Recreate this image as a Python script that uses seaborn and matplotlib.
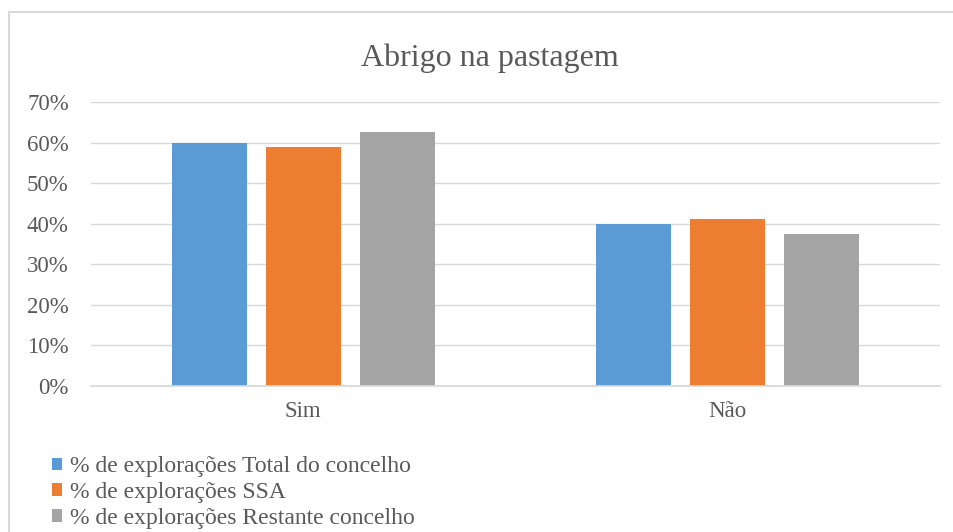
import matplotlib
matplotlib.use("Agg")
import matplotlib.pyplot as plt
import seaborn as sns
import pandas as pd
from matplotlib.patches import Rectangle
from matplotlib.ticker import PercentFormatter

# dados
categorias = ["Sim", "Não"]
series = ["% de explorações Total do concelho",
          "% de explorações SSA",
          "% de explorações Restante concelho"]
total_concelho = [60.0, 40.0]
ssa = [58.8, 41.2]
restante = [62.5, 37.5]
cores = ["#5B9BD5", "#ED7D31", "#A5A5A5"]

df = pd.DataFrame({
    "categoria": categorias * 3,
    "serie": [series[0]] * 2 + [series[1]] * 2 + [series[2]] * 2,
    "valor": total_concelho + ssa + restante,
})

sns.set_theme(style="white")
plt.rcParams["font.family"] = ["Liberation Serif", "DejaVu Serif"]
cinza_texto = "#595959"

fig = plt.figure(figsize=(9.54, 5.32), dpi=100)
ax = fig.add_axes([0.0954, 0.2744, 0.8899, 0.5339])

sns.barplot(data=df, x="categoria", y="valor", hue="serie", palette=cores,
            width=0.665, gap=0.2, linewidth=0, ax=ax, legend=True,
            saturation=1)

ax.set_ylim(0, 70)
ax.set_xlim(-0.5, 1.5)
ax.set_yticks(range(0, 71, 10))
ax.yaxis.set_major_formatter(PercentFormatter(decimals=0))
ax.grid(axis="y", color="#D9D9D9", linewidth=1)
ax.set_axisbelow(True)
for s in ["top", "right", "left"]:
    ax.spines[s].set_visible(False)
ax.spines["bottom"].set_color("#D9D9D9")
ax.set_xlabel("")
ax.set_ylabel("")
ax.tick_params(axis="both", labelsize=16.5, colors=cinza_texto, length=0)
ax.tick_params(axis="y", pad=16)
ax.tick_params(axis="x", pad=11)

# título centrado na área do gráfico, não nos eixos
fig.text(490 / 954, 1 - 58 / 532, "Abrigo na pastagem", fontsize=23,
         color=cinza_texto, ha="center", va="center")

handles, labels = ax.get_legend_handles_labels()
ax.legend_.remove()
fig.legend(handles, labels, loc="upper left", bbox_to_anchor=(0.054, 0.142),
           frameon=False, fontsize=17, labelcolor=cinza_texto,
           handlelength=0.45, handleheight=0.45, handletextpad=0.35,
           labelspacing=0.2, borderaxespad=0, borderpad=0)

# moldura do gráfico (estilo Excel)
fig.patches.append(Rectangle((9 / 954, -0.1), 1.2, (532 - 12) / 532 + 0.1,
                             transform=fig.transFigure, fill=False,
                             edgecolor="#D9D9D9", linewidth=1.5))

fig.savefig("out.png", dpi=100)
